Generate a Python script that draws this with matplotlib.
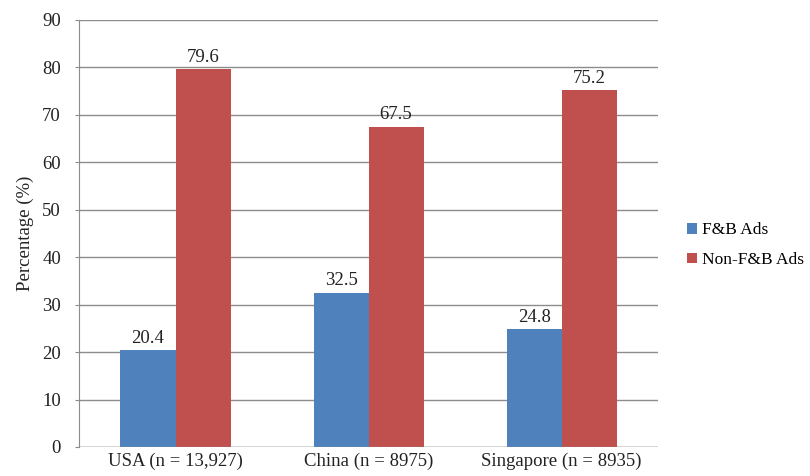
import matplotlib.pyplot as plt
import numpy as np

plt.rcParams['font.family'] = ['Liberation Serif', 'DejaVu Serif']

categories = ['USA (n = 13,927)', 'China (n = 8975)', 'Singapore (n = 8935)']
fb_ads = [20.4, 32.5, 24.8]
non_fb_ads = [79.6, 67.5, 75.2]
series_names = ['F&B Ads', 'Non-F&B Ads']

fig = plt.figure(figsize=(8.1, 4.76), dpi=100)
ax = fig.add_axes([0.0975, 0.061, 0.715, 0.897])

x = np.arange(len(categories))
w = 0.285
b1 = ax.bar(x - w / 2, fb_ads, w, color='#4F81BD', label=series_names[0], zorder=3)
b2 = ax.bar(x + w / 2, non_fb_ads, w, color='#C0504D', label=series_names[1], zorder=3)

for bars, vals in ((b1, fb_ads), (b2, non_fb_ads)):
    for r, v in zip(bars, vals):
        ax.text(r.get_x() + r.get_width() / 2, v + 0.7, f'{v:.1f}',
                ha='center', va='bottom', fontsize=13.5, color='#222222')

ax.set_xlim(-0.5, 2.5)
ax.set_ylim(0, 90)
ax.set_yticks(np.arange(0, 91, 10))
ax.set_xticks(x)
ax.set_xticklabels(categories)
ax.tick_params(axis='both', labelsize=13.5, colors='#222222', length=0, pad=4)
ax.tick_params(axis='y', length=3, color='#8c8c8c', pad=10)
ax.yaxis.grid(True, color='#8c8c8c', linewidth=1, zorder=0)
for s in ['top', 'right', 'bottom']:
    ax.spines[s].set_visible(False)
ax.spines['left'].set_color('#8c8c8c')
ax.axhline(0, color='#8c8c8c', linewidth=1, zorder=4)

ax.set_ylabel('Percentage (%)', fontsize=13.5, color='#222222', labelpad=6)

ax.legend(loc='center left', bbox_to_anchor=(1.032, 0.472), frameon=False,
          fontsize=12.5, handlelength=0.55, handleheight=0.55, handletextpad=0.3,
          labelspacing=0.8, borderaxespad=0.2)

fig.savefig('out.png')
